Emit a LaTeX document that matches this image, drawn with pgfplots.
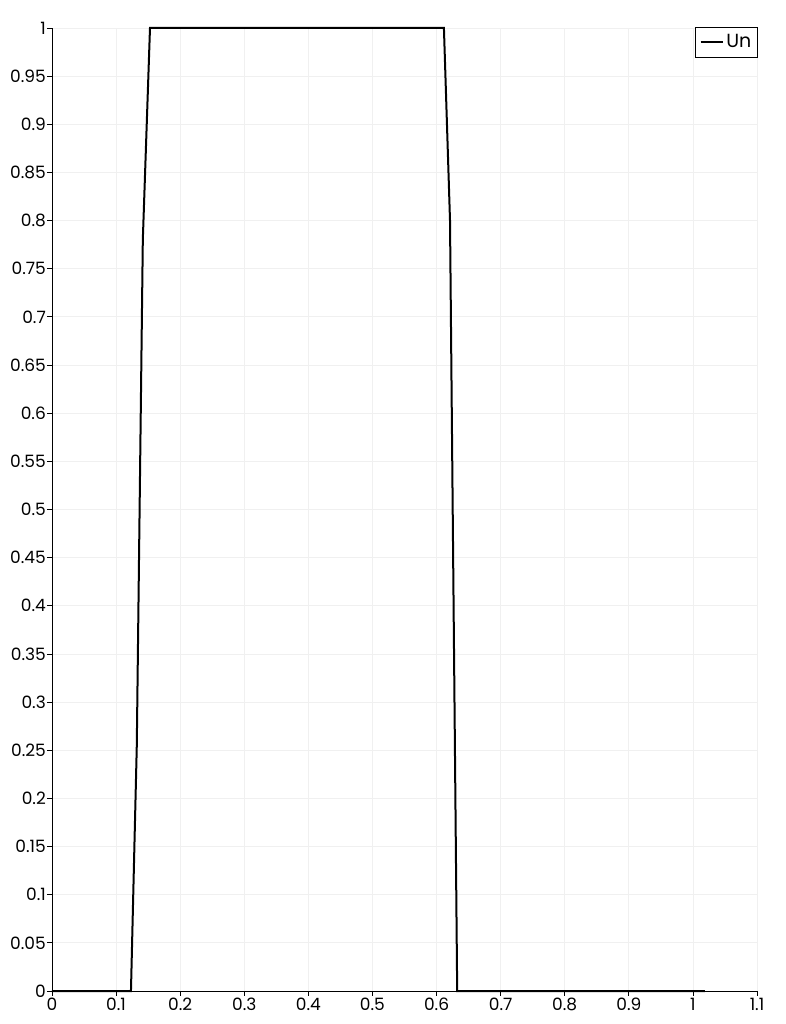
\documentclass[border=0pt]{standalone}
\usepackage{pgfplots}
\pgfplotsset{compat=1.18}
\usepackage{fontspec}
\setmainfont{Poppins}
\begin{document}
\fontsize{17pt}{19pt}\selectfont
\begin{tikzpicture}
\begin{axis}[
  scale only axis,
  width=705pt, height=963pt,
  xmin=0, xmax=1.1, ymin=0, ymax=1,
  axis lines=left,
  axis line style={-, black, line width=0.8pt},
  xtick={0,0.1,...,1.1},
  ytick={0,0.05,...,1.0},
  xticklabels={0,0.1,0.2,0.3,0.4,0.5,0.6,0.7,0.8,0.9,1,1.1},
  yticklabels={0,0.05,0.1,0.15,0.2,0.25,0.3,0.35,0.4,0.45,0.5,0.55,0.6,0.65,0.7,0.75,0.8,0.85,0.9,0.95,1},
  tick align=outside,
  major tick length=5pt,
  tick style={black, line width=0.8pt},
  grid=major,
  major grid style={gray!12, line width=0.8pt},
  xticklabel style={inner sep=1pt, yshift=-1pt},
  yticklabel style={xshift=1pt, inner sep=2pt},
  legend style={at={(1.001,1.001)}, anchor=north east, draw=black, line width=0.8pt, font=\fontsize{19pt}{22pt}\selectfont, inner xsep=4pt, inner ysep=5pt, row sep=0pt},
  legend cell align=left,
  legend image code/.code={\draw[black, line width=2pt] (0cm,0cm) -- (0.8cm,0cm);},
  clip=false,
]
\addplot[black, line width=2pt] coordinates {
 (0,0) (0.1232,0) (0.1323,0.255) (0.1417,0.78) (0.1529,1) (0.6115,1) (0.6210,0.80) (0.6322,0) (1.0187,0)
};
\addlegendentry{Un}
\end{axis}
\path[use as bounding box] ([xshift=-52pt,yshift=-33pt]current axis.south west) rectangle ([xshift=28pt,yshift=28pt]current axis.north east);
\end{tikzpicture}
\end{document}
